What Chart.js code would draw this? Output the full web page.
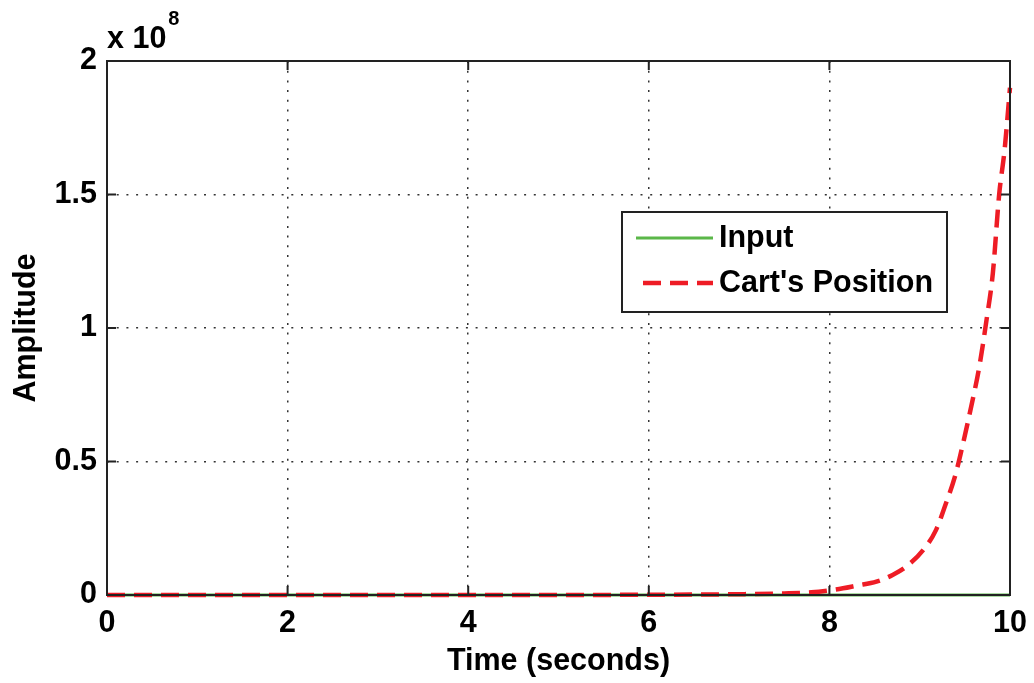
<!DOCTYPE html>
<html>
<head>
<meta charset="utf-8">
<script src="https://cdn.jsdelivr.net/npm/chart.js@4/dist/chart.umd.min.js"></script>
<style>
  html, body { margin: 0; padding: 0; background: #fff; }
  #wrap { width: 1034px; height: 683px; position: relative; }
</style>
</head>
<body>
<div id="wrap"><canvas id="c" width="1034" height="683"></canvas></div>
<script>
// ---- data (amplitude in units of 1e8) ----
const inputTime = [0, 10];
const inputValues = [0.00000001, 0.00000001];
const positionTime = [0, 1, 2, 3, 4, 5, 6, 7, 7.5, 7.8, 8, 8.15, 8.3, 8.52, 8.7, 8.85, 9.04, 9.18, 9.29, 9.39, 9.48, 9.57, 9.66, 9.74, 9.81, 9.88, 9.94, 10];
const positionValues = [0, 0, 0, 0, 0, 0, 0.001, 0.003, 0.006, 0.01, 0.017, 0.025, 0.035, 0.05, 0.075, 0.106, 0.169, 0.243, 0.343, 0.443, 0.568, 0.705, 0.855, 1.03, 1.205, 1.5, 1.667, 1.9];
const xTicks = [0, 2, 4, 6, 8, 10];
const yTicks = [0, 0.5, 1, 1.5, 2];
const yTickLabels = ["0", "0.5", "1", "1.5", "2"];
const xTickLabels = ["0", "2", "4", "6", "8", "10"];
const seriesNames = ["Input", "Cart's Position"];
const xTitle = "Time (seconds)";
const yTitle = "Amplitude";
const exponentBase = "x 10";
const exponentPower = "8";

const FONT = '"Liberation Sans", Arial, sans-serif';
const FS = 30.5;
const GREEN = '#5bb749';
const RED = '#ee1c25';

function toXY(xs, ys) { return xs.map((x, i) => ({ x: x, y: ys[i] })); }

const framePlugin = {
  id: 'frame',
  afterDraw(chart) {
    const ctx = chart.ctx;
    const a = chart.chartArea;
    const xs = chart.scales.x, ys = chart.scales.y;
    ctx.save();
    ctx.strokeStyle = '#222';
    ctx.lineWidth = 2;
    ctx.setLineDash([]);
    ctx.strokeRect(a.left, a.top, a.right - a.left, a.bottom - a.top);
    const tl = 9;
    ctx.beginPath();
    xTicks.forEach(v => {
      const px = xs.getPixelForValue(v);
      ctx.moveTo(px, a.bottom); ctx.lineTo(px, a.bottom - tl);
      ctx.moveTo(px, a.top); ctx.lineTo(px, a.top + tl);
    });
    yTicks.forEach(v => {
      const py = ys.getPixelForValue(v);
      ctx.moveTo(a.left, py); ctx.lineTo(a.left + tl, py);
      ctx.moveTo(a.right, py); ctx.lineTo(a.right - tl, py);
    });
    ctx.stroke();

    // exponent label
    ctx.fillStyle = '#000';
    ctx.textBaseline = 'alphabetic';
    ctx.textAlign = 'left';
    ctx.font = 'bold ' + FS + 'px ' + FONT;
    ctx.fillText(exponentBase, a.left, 48);
    const w = ctx.measureText(exponentBase).width;
    ctx.font = 'bold 20px ' + FONT;
    ctx.fillText(exponentPower, a.left + w + 2, 25);

    // legend
    const lx = 622, ly = 212, lw = 325, lh = 100;
    ctx.fillStyle = '#fff';
    ctx.fillRect(lx, ly, lw, lh);
    ctx.strokeStyle = '#222';
    ctx.lineWidth = 2;
    ctx.strokeRect(lx, ly, lw, lh);
    const dsets = chart.data.datasets;
    const rows = [238, 283];
    dsets.forEach((d, i) => {
      ctx.save();
      ctx.strokeStyle = d.borderColor;
      ctx.lineWidth = d.borderWidth;
      ctx.setLineDash(d.borderDash || []);
      ctx.beginPath();
      ctx.moveTo(i === 0 ? 636 : 643, rows[i]);
      ctx.lineTo(713, rows[i]);
      ctx.stroke();
      ctx.restore();
      ctx.fillStyle = '#000';
      ctx.font = 'bold ' + FS + 'px ' + FONT;
      ctx.textBaseline = 'middle';
      ctx.fillText(d.label, 719, rows[i] + 1);
    });
    ctx.restore();
  }
};

const tickFont = { family: FONT, size: FS, weight: 'bold' };

new Chart(document.getElementById('c'), {
  type: 'line',
  data: {
    datasets: [
      {
        label: seriesNames[0],
        data: toXY(inputTime, inputValues),
        borderColor: GREEN,
        borderWidth: 3,
        pointRadius: 0,
        fill: false,
        clip: 6,
        order: 2
      },
      {
        label: seriesNames[1],
        data: toXY(positionTime, positionValues),
        borderColor: RED,
        borderWidth: 4.5,
        borderDash: [18, 9],
        pointRadius: 0,
        fill: false,
        cubicInterpolationMode: 'monotone',
        clip: 6,
        order: 1
      }
    ]
  },
  options: {
    responsive: false,
    animation: false,
    layout: { padding: { top: 61, right: 24, left: 0, bottom: 0 } },
    plugins: { legend: { display: false }, tooltip: { enabled: false } },
    scales: {
      x: {
        type: 'linear',
        min: 0, max: 10,
        afterFit(s) { s.height = 88; s.paddingLeft = 0; s.paddingRight = 0; },
        afterBuildTicks(s) { s.ticks = xTicks.map(v => ({ value: v })); },
        ticks: {
          font: tickFont, color: '#000', padding: 10, maxRotation: 0,
          callback: (v) => { const i = xTicks.indexOf(v); return i >= 0 ? xTickLabels[i] : ''; }
        },
        grid: { color: '#333', lineWidth: 1.5, drawTicks: false },
        border: { display: false, dash: [2, 7.7] },
        title: { display: true, text: xTitle, color: '#000', font: tickFont, padding: { top: 0, bottom: 3 } }
      },
      y: {
        type: 'linear',
        min: 0, max: 2,
        afterFit(s) { s.width = 107; s.paddingTop = 0; s.paddingBottom = 0; },
        afterBuildTicks(s) { s.ticks = yTicks.map(v => ({ value: v })); },
        ticks: {
          font: tickFont, color: '#000', padding: 10,
          callback: (v) => { const i = yTicks.indexOf(v); return i >= 0 ? yTickLabels[i] : ''; }
        },
        grid: { color: '#333', lineWidth: 1.5, drawTicks: false },
        border: { display: false, dash: [2, 7.7] },
        title: { display: true, text: yTitle, color: '#000', font: tickFont, padding: { top: 8, bottom: 0 } }
      }
    }
  },
  plugins: [framePlugin]
});
</script>
</body>
</html>
